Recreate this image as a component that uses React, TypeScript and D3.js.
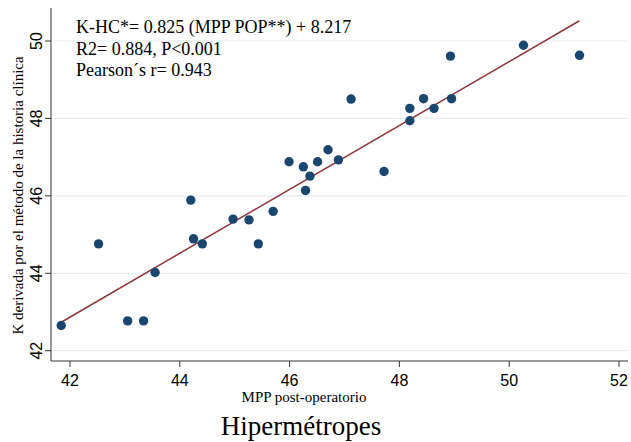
import React from "react";
import * as d3 from "d3";

const mppPop: number[] = [41.84, 42.52, 43.05, 43.34, 43.55, 44.2, 44.25, 44.41, 44.97, 45.26, 45.43, 45.7, 45.99, 46.25, 46.29, 46.37, 46.51, 46.7, 46.89, 47.12, 47.72, 48.19, 48.19, 48.44, 48.63, 48.93, 48.95, 50.26, 51.28];
const kHc: number[] = [42.65, 44.76, 42.77, 42.77, 44.02, 45.89, 44.89, 44.76, 45.4, 45.38, 44.76, 45.6, 46.88, 46.75, 46.14, 46.51, 46.88, 47.19, 46.93, 48.5, 46.63, 48.26, 47.94, 48.51, 48.26, 49.61, 48.51, 49.89, 49.63];
const xTicks: number[] = [42, 44, 46, 48, 50, 52];
const yTicks: number[] = [42, 44, 46, 48, 50];
const slope = 0.825;
const intercept = 8.217;
const annotation: string[] = [
  "K-HC*= 0.825 (MPP POP**) + 8.217",
  "R2= 0.884, P<0.001",
  "Pearson´s r= 0.943",
];
const xLabel = "MPP post-operatorio";
const yLabel = "K derivada por el método de la historia clínica";
const title = "Hipermétropes";

const W = 631;
const H = 442;
const left = 51;
const right = 628;
const top = 8;
const bottom = 361;

export default function App() {
  const x = d3.scaleLinear().domain([42, 52]).range([70, 619]);
  const y = d3.scaleLinear().domain([42, 50]).range([350.7, 41]);
  const x0 = d3.min(mppPop) as number;
  const x1 = d3.max(mppPop) as number;
  const line = d3
    .line<number>()
    .x((d) => x(d))
    .y((d) => y(slope * d + intercept));
  const serif = "'Liberation Serif', 'Times New Roman', serif";
  const sans = "'Liberation Sans', Arial, sans-serif";
  return (
    <svg
      width={W}
      height={H}
      style={{ position: "absolute", left: 0, top: 0, background: "#fff" }}
    >
      <rect x={0} y={0} width={W} height={H} fill="#fff" />
      {yTicks.map((t) => (
        <line key={"g" + t} x1={left} x2={right} y1={y(t)} y2={y(t)} stroke="#e6eef2" strokeWidth={1.2} />
      ))}
      <line x1={left} x2={left} y1={top} y2={bottom} stroke="#333" strokeWidth={1} />
      <line x1={left} x2={right} y1={bottom} y2={bottom} stroke="#333" strokeWidth={1} />
      {yTicks.map((t) => (
        <g key={"y" + t}>
          <line x1={left - 6} x2={left} y1={y(t)} y2={y(t)} stroke="#333" />
          <text
            transform={`translate(${41.5},${y(t)}) rotate(-90)`}
            textAnchor="middle"
            fontFamily={sans}
            fontSize={16}
            fill="#000"
          >
            {t}
          </text>
        </g>
      ))}
      {xTicks.map((t) => (
        <g key={"x" + t}>
          <line x1={x(t)} x2={x(t)} y1={bottom} y2={bottom + 6} stroke="#333" />
          <text x={x(t)} y={386} textAnchor="middle" fontFamily={sans} fontSize={16} fill="#000">
            {t}
          </text>
        </g>
      ))}
      <path d={line([x0, x1]) || ""} fill="none" stroke="#90353b" strokeWidth={1.5} />
      {mppPop.map((v, i) => (
        <circle key={i} cx={x(v)} cy={y(kHc[i])} r={4.7} fill="#1a476f" />
      ))}
      {annotation.map((s, i) => (
        <text key={s} x={76} y={33 + i * 21.5} fontFamily={serif} fontSize={18} fill="#000">
          {s}
        </text>
      ))}
      <text x={304} y={402} textAnchor="middle" fontFamily={serif} fontSize={15} fill="#000">
        {xLabel}
      </text>
      <text
        transform={`translate(22.7,195.5) rotate(-90)`}
        textAnchor="middle"
        fontFamily={serif}
        fontSize={15}
        fill="#000"
      >
        {yLabel}
      </text>
      <text x={301} y={435} textAnchor="middle" fontFamily={serif} fontSize={27} fill="#000">
        {title}
      </text>
    </svg>
  );
}
